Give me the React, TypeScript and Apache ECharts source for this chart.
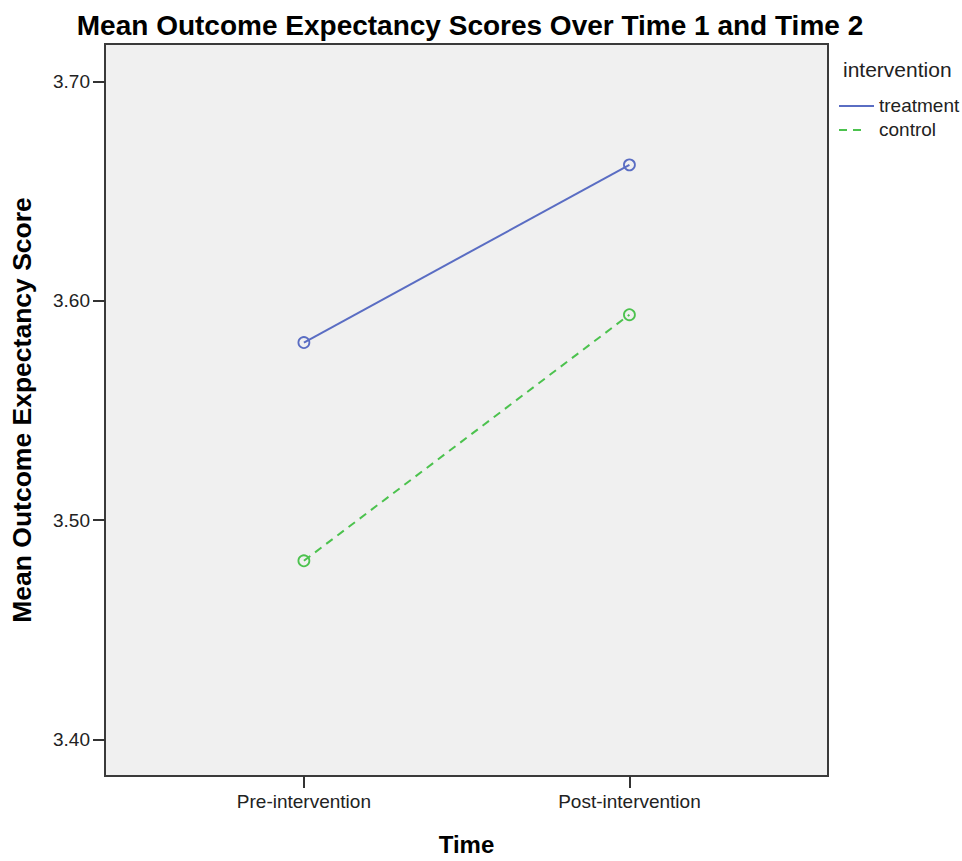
import React, { useEffect, useRef } from "react";
import * as echarts from "echarts";

const timeLabels = ["Pre-intervention", "Post-intervention"];
const timePositions = [1, 2];
const treatment = [3.581, 3.662];
const control = [3.4815, 3.5937];
const yTicks = [3.4, 3.5, 3.6, 3.7];
const seriesNames = ["treatment", "control"];

const FONT = "'Liberation Sans', Arial, Helvetica, sans-serif";
const BLUE = "#5a6dc3";
const GREEN = "#4cc24e";

export default function App() {
  const ref = useRef<HTMLDivElement>(null);
  useEffect(() => {
    if (!ref.current) return;
    const chart = echarts.init(ref.current, undefined, { renderer: "svg" });
    const mk = (name: string, vals: number[], color: string, dashed: boolean) => ({
      name,
      type: "line",
      data: vals.map((v, i) => [timePositions[i], v]),
      symbol: "circle",
      symbolSize: 11,
      lineStyle: { color, width: 2, type: dashed ? [8, 6] : "solid" },
      itemStyle: { color: "rgba(0,0,0,0)", borderColor: color, borderWidth: 1.8 },
      z: 3,
    });
    chart.setOption({
      animation: false,
      backgroundColor: "#ffffff",
      textStyle: { fontFamily: FONT },
      title: {
        text: "Mean Outcome Expectancy Scores Over Time 1 and Time 2",
        left: 465,
        textAlign: "center",
        top: 6,
        textStyle: { fontFamily: FONT, fontSize: 28, fontWeight: "bold", color: "#000" },
      },
      grid: {
        left: 104,
        top: 44,
        right: 134,
        bottom: 78,
        show: true,
        backgroundColor: "#f0f0f0",
        borderColor: "#3a3a3a",
        borderWidth: 2,
      },
      xAxis: {
        type: "value",
        min: 0.389,
        max: 2.61,
        name: "Time",
        nameLocation: "middle",
        nameGap: 56,
        nameTextStyle: { fontFamily: FONT, fontSize: 24, fontWeight: "bold", color: "#000" },
        axisLine: { show: false },
        splitLine: { show: false },
        axisTick: {
          show: true,
          length: 12,
          customValues: timePositions,
          lineStyle: { color: "#333", width: 2 },
        },
        axisLabel: {
          customValues: timePositions,
          formatter: (v: number) => timeLabels[timePositions.indexOf(v)] ?? "",
          fontFamily: FONT,
          fontSize: 19,
          color: "#222",
          margin: 16,
        },
      },
      yAxis: {
        type: "value",
        min: 3.3834,
        max: 3.7171,
        name: "Mean Outcome Expectancy Score",
        nameLocation: "middle",
        nameGap: 70,
        nameTextStyle: { fontFamily: FONT, fontSize: 26.5, fontWeight: "bold", color: "#000" },
        axisLine: { show: false },
        splitLine: { show: false },
        axisTick: {
          show: true,
          length: 12,
          customValues: yTicks,
          lineStyle: { color: "#333", width: 2 },
        },
        axisLabel: {
          customValues: yTicks,
          formatter: (v: number) => v.toFixed(2),
          fontFamily: FONT,
          fontSize: 19,
          color: "#222",
          margin: 15,
        },
      },
      series: [
        mk(seriesNames[0], treatment, BLUE, false),
        mk(seriesNames[1], control, GREEN, true),
      ],
      graphic: [
        {
          type: "text",
          left: 843,
          top: 59,
          style: { text: "intervention", fontFamily: FONT, fontSize: 21, fill: "#222" },
        },
        {
          type: "line",
          shape: { x1: 839, y1: 106, x2: 874, y2: 106 },
          style: { stroke: BLUE, lineWidth: 2 },
        },
        {
          type: "text",
          left: 879,
          top: 96,
          style: { text: seriesNames[0], fontFamily: FONT, fontSize: 19, fill: "#222" },
        },
        {
          type: "line",
          shape: { x1: 839, y1: 130, x2: 861, y2: 130 },
          style: { stroke: GREEN, lineWidth: 2, lineDash: [8, 6] },
        },
        {
          type: "text",
          left: 879,
          top: 120,
          style: { text: seriesNames[1], fontFamily: FONT, fontSize: 19, fill: "#222" },
        },
      ],
    });
    return () => chart.dispose();
  }, []);
  return (
    <div
      ref={ref}
      style={{ position: "absolute", left: 0, top: 0, width: 962, height: 861 }}
    />
  );
}
